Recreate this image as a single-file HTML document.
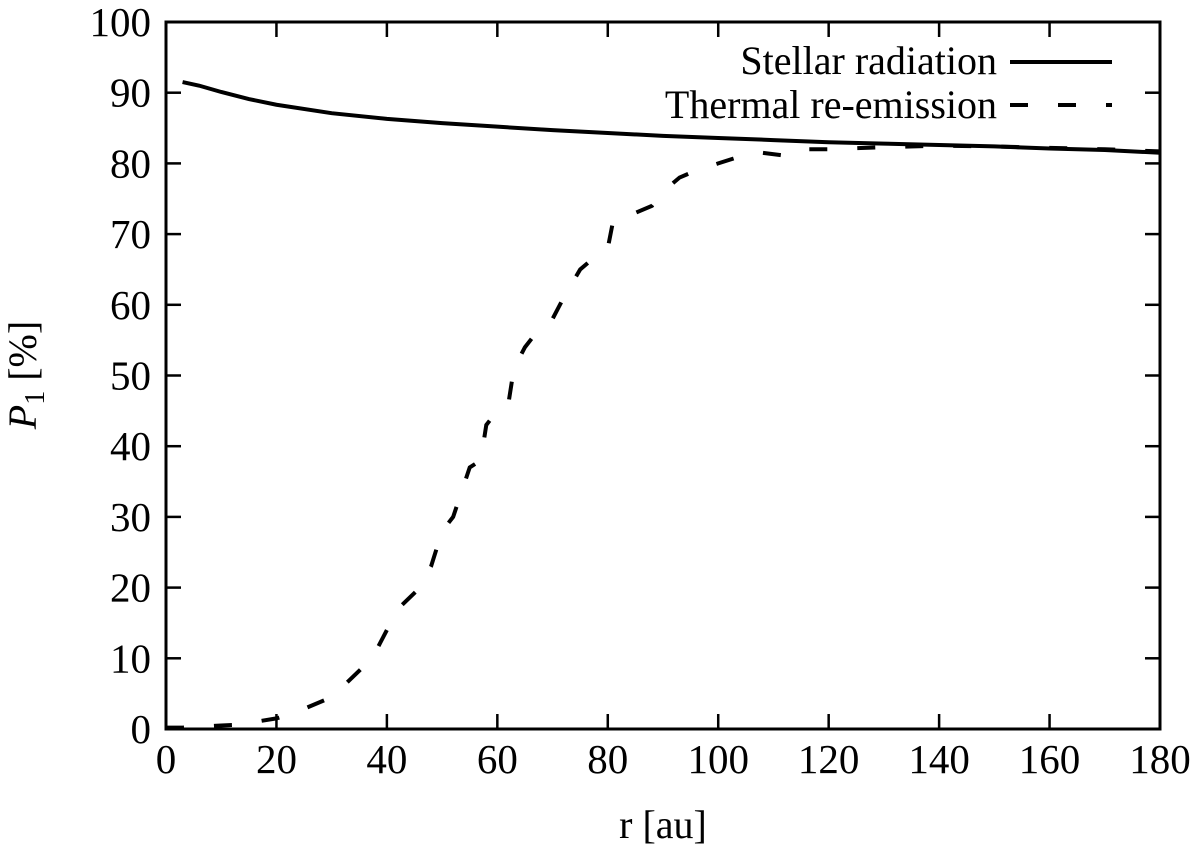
<!DOCTYPE html>
<html><head><meta charset="utf-8"><style>
body{margin:0;background:#fff}
svg text{font-family:"Liberation Serif",serif;fill:#000}
</style></head><body>
<svg width="1200" height="845" viewBox="0 0 1200 845">
<g id="ticks"></g>
<g id="lines"></g>
<rect x="166" y="22" width="994" height="707" fill="none" stroke="#000" stroke-width="3"/>
<text x="36" y="375" font-size="40" text-anchor="middle" transform="rotate(-90 36 375)"><tspan font-style="italic">P</tspan><tspan font-size="28" dy="8">1</tspan><tspan dy="-8"> [%]</tspan></text>
<text x="663" y="838" font-size="40" text-anchor="middle">r [au]</text>
<g>
<text x="997" y="74" font-size="40" text-anchor="end">Stellar radiation</text>
<line x1="1010" y1="62" x2="1112" y2="62" stroke="#000" stroke-width="4"/>
<text x="997" y="118" font-size="40" text-anchor="end">Thermal re-emission</text>
<line x1="1010" y1="105" x2="1112" y2="105" stroke="#000" stroke-width="4" stroke-dasharray="18,30"/>
</g>
</svg>
<script>
const xTicks=[0,20,40,60,80,100,120,140,160,180];
const yTicks=[0,10,20,30,40,50,60,70,80,90,100];
const stellarR=[3,6,10,15,20,30,40,50,60,70,80,90,100,110,120,130,140,150,160,170,180];
const stellarP=[91.5,91,90.1,89.1,88.3,87.1,86.3,85.7,85.2,84.7,84.3,83.9,83.6,83.3,83,82.8,82.6,82.4,82.1,81.9,81.5];
const thermalR=[0,3,10,13,20,23,30,32,36,38,40,42,46,48,50,52,55,57,58,60,62,63,65,68,70,72,75,78,80,81,85,88,90,93,96,100,104,108,113,116,120,130,140,150,160,170,180];
const thermalP=[0.2,0.2,0.5,0.6,1.5,2.2,4.5,6,9,11,14,17,20,23,28,30,37,38,43,45,46,51,54,57,58,61,65,67,68,72,73,74,76,78,79,80,81,81.5,81,82,82,82.3,82.5,82.4,82.2,82,81.7];
const NS='http://www.w3.org/2000/svg';
const X=v=>166+v/180*994, Y=v=>729-v/100*707;
const tg=document.getElementById('ticks'), lg=document.getElementById('lines');
function mk(t,a,p){const e=document.createElementNS(NS,t);for(const k in a)e.setAttribute(k,a[k]);p.appendChild(e);return e;}
xTicks.forEach(v=>{
 const a=mk('line',{x1:X(v),x2:X(v),y1:729,y2:714,stroke:'#000','stroke-width':2.5},tg);
 
 
 const b=mk('line',{x1:X(v),x2:X(v),y1:22,y2:37,stroke:'#000','stroke-width':2.5},tg);
 
 
 const t=mk('text',{x:X(v),y:773,'font-size':41,'text-anchor':'middle'},tg);t.textContent=v;
 
 
});
yTicks.forEach(v=>{
 const a=mk('line',{x1:166,x2:181,y1:Y(v),y2:Y(v),stroke:'#000','stroke-width':2.5},tg);
 
 
 const b=mk('line',{x1:1145,x2:1160,y1:Y(v),y2:Y(v),stroke:'#000','stroke-width':2.5},tg);
 
 
 const t=mk('text',{x:151,y:Y(v)+14,'font-size':41,'text-anchor':'end'},tg);t.textContent=v;
 
 
});
const p1=mk('polyline',{points:stellarR.map((r,i)=>X(r)+','+Y(stellarP[i])).join(' '),fill:'none',stroke:'#000','stroke-width':4},lg);


const p2=mk('polyline',{points:thermalR.map((r,i)=>X(r)+','+Y(thermalP[i])).join(' '),fill:'none',stroke:'#000','stroke-width':4,'stroke-dasharray':'18,30'},lg);


</script>
</body></html>
